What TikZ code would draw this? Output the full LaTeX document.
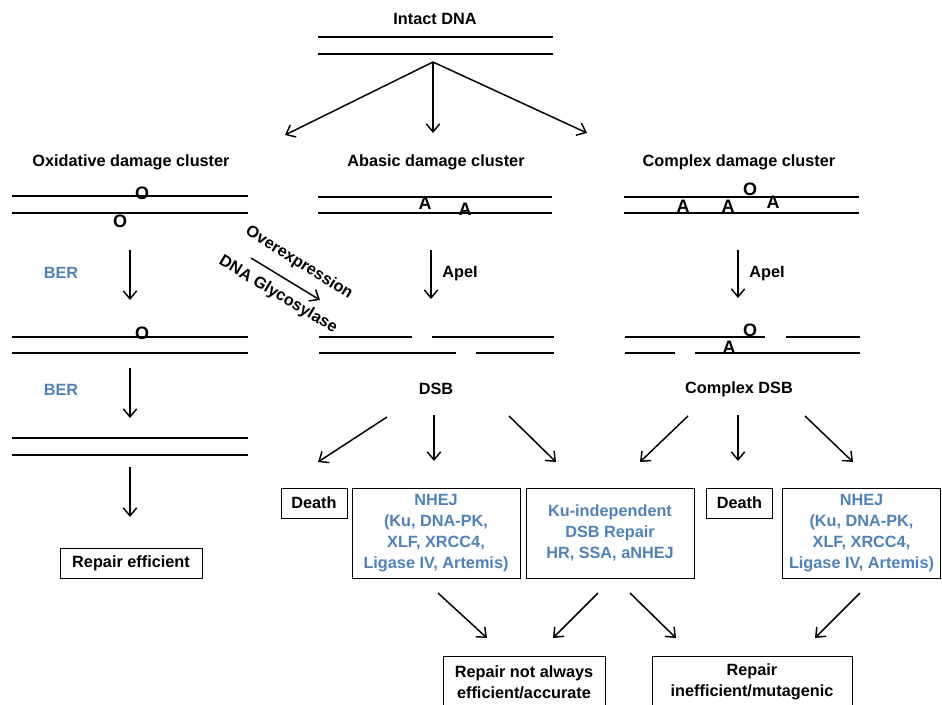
\documentclass[tikz,border=0pt]{standalone}
\usepackage{fontspec}
\setmainfont{Liberation Sans}
\usetikzlibrary{arrows.meta}
\definecolor{repblue}{RGB}{79,129,189}

\begin{document}
\begin{tikzpicture}[x=0.75pt, y=-0.75pt,
	txt/.style={font=\fontsize{12.2}{15.6}\selectfont\bfseries, align=center, inner sep=0pt},
	lbl/.style={txt, yshift=-1.5pt},
	blu/.style={lbl, text=repblue},
	box/.style={txt, draw, line width=0.7pt},
	base/.style={font=\fontsize{13.5}{14}\selectfont\bfseries, inner sep=0pt},
	strand/.style={line width=1.4pt},
	arr/.style={-{Straight Barb[length=6pt, width=10pt]}, line width=1.1pt}]
	\clip (0,0) rectangle (942,704);

	\node[lbl] (intact) at (435,17) {Intact DNA};
	\draw[strand] (318,37) -- (553,37);
	\draw[strand] (318,54) -- (553,54);

	\coordinate (split) at (433,62);
	\coordinate (toOxi) at (285,135);
	\coordinate (toAba) at (433,133);
	\coordinate (toCpx) at (587,133);
	\path[arr] (split) edge (toOxi) (split) edge (toAba) (split) edge (toCpx);

	\node[lbl] (oxi) at (131,160) {Oxidative damage cluster};
	\node[lbl] (aba) at (436,160) {Abasic damage cluster};
	\node[lbl] (cpx) at (739,160) {Complex damage cluster};

	% oxidative column
	\draw[strand] (12,196) -- (248,196);
	\draw[strand] (12,213) -- (248,213);
	\node[base] (oxA) at (142,193) {O};
	\node[base] (oxB) at (120,221) {O};
	\coordinate (ox1s) at (130,250);
	\coordinate (ox1e) at (130,300);
	\path[arr] (ox1s) edge (ox1e);
	\node[blu] (ber1) at (61,271) {BER};

	\draw[strand] (12,337) -- (248,337);
	\draw[strand] (12,353) -- (248,353);
	\node[base] (oxC) at (142,333) {O};
	\coordinate (ox2s) at (130,368);
	\coordinate (ox2e) at (130,418);
	\path[arr] (ox2s) edge (ox2e);
	\node[blu] (ber2) at (61,388) {BER};

	\draw[strand] (12,438) -- (248,438);
	\draw[strand] (12,455) -- (248,455);
	\coordinate (ox3s) at (130,467);
	\coordinate (ox3e) at (130,517);
	\path[arr] (ox3s) edge (ox3e);
	\node[box, minimum width=106.5pt, minimum height=22.5pt] (eff) at (131,563) {Repair efficient};

	% glycosylase shortcut
	\coordinate (gly1) at (251,258);
	\coordinate (gly2) at (320,300);
	\path[arr] (gly1) edge (gly2);
	\node[txt, rotate=-32] (over) at (299,263) {Overexpression};
	\node[txt, rotate=-31] (glyc) at (278,295) {DNA Glycosylase};

	% abasic column
	\draw[strand] (318,197) -- (552,197);
	\draw[strand] (318,213) -- (552,213);
	\node[base] (abA) at (425,203) {A};
	\node[base] (abB) at (465,209) {A};
	\coordinate (ab1s) at (431,250);
	\coordinate (ab1e) at (431,299);
	\path[arr] (ab1s) edge (ab1e);
	\node[lbl] (apeA) at (460,272) {ApeI};

	\draw[strand] (319,337) -- (412,337);
	\draw[strand] (432,337) -- (554,337);
	\draw[strand] (319,353) -- (456,353);
	\draw[strand] (476,353) -- (554,353);
	\node[lbl] (dsb) at (436,387) {DSB};

	% complex column
	\draw[strand] (624,197) -- (859,197);
	\draw[strand] (624,213) -- (859,213);
	\node[base] (cxO) at (750,189) {O};
	\node[base] (cxA) at (683,206) {A};
	\node[base] (cxB) at (728,206) {A};
	\node[base] (cxC) at (773,202) {A};
	\coordinate (cx1s) at (738,250);
	\coordinate (cx1e) at (738,298);
	\path[arr] (cx1s) edge (cx1e);
	\node[lbl] (apeB) at (767,272) {ApeI};

	\draw[strand] (625,337) -- (765,337);
	\draw[strand] (786,337) -- (860,337);
	\draw[strand] (625,353) -- (675,353);
	\draw[strand] (695,353) -- (860,353);
	\node[base] (cxD) at (750,330) {O};
	\node[base] (cxE) at (729,347) {A};
	\node[lbl] (cdsb) at (739,387) {Complex DSB};

	% outcomes
	\node[box, minimum width=49.5pt, minimum height=22.5pt] (death1) at (314,503) {Death};
	\node[box, minimum width=126pt, minimum height=67.5pt, text=repblue] (nhej1) at (436,533)
		{NHEJ\\(Ku, DNA-PK,\\XLF, XRCC4,\\Ligase IV, Artemis)};
	\node[box, minimum width=126pt, minimum height=67.5pt, text=repblue] (kuind) at (610,533)
		{Ku-independent\\DSB Repair\\HR, SSA, aNHEJ};
	\node[box, minimum width=50pt, minimum height=22.5pt] (death2) at (739.5,503) {Death};
	\node[box, minimum width=118pt, minimum height=67.5pt, text=repblue] (nhej2) at (861.5,533)
		{NHEJ\\(Ku, DNA-PK,\\XLF, XRCC4,\\Ligase IV, Artemis)};

	\coordinate (d1s) at (387,417);
	\coordinate (d1e) at (318,462);
	\coordinate (d2s) at (434,415);
	\coordinate (d2e) at (434,461);
	\coordinate (d3s) at (509,416);
	\coordinate (d3e) at (556,462);
	\path[arr] (d1s) edge (d1e) (d2s) edge (d2e) (d3s) edge (d3e);

	\coordinate (c1s) at (688,416);
	\coordinate (c1e) at (640,462);
	\coordinate (c2s) at (738,415);
	\coordinate (c2e) at (738,461);
	\coordinate (c3s) at (805,416);
	\coordinate (c3e) at (853,462);
	\path[arr] (c1s) edge (c1e) (c2s) edge (c2e) (c3s) edge (c3e);

	\node[box, minimum width=121.5pt, minimum height=39pt] (notalw) at (524,682)
		{Repair not always\\efficient/accurate};
	\node[box, minimum width=150pt, minimum height=39pt] (mutag) at (752,682)
		{Repair\\inefficient/mutagenic};

	\coordinate (b1s) at (438,593);
	\coordinate (b1e) at (487,638);
	\coordinate (b2s) at (598,593);
	\coordinate (b2e) at (553,638);
	\coordinate (b3s) at (630,593);
	\coordinate (b3e) at (676,638);
	\coordinate (b4s) at (860,593);
	\coordinate (b4e) at (815,638);
	\path[arr] (b1s) edge (b1e) (b2s) edge (b2e) (b3s) edge (b3e) (b4s) edge (b4e);
\end{tikzpicture}
\end{document}
